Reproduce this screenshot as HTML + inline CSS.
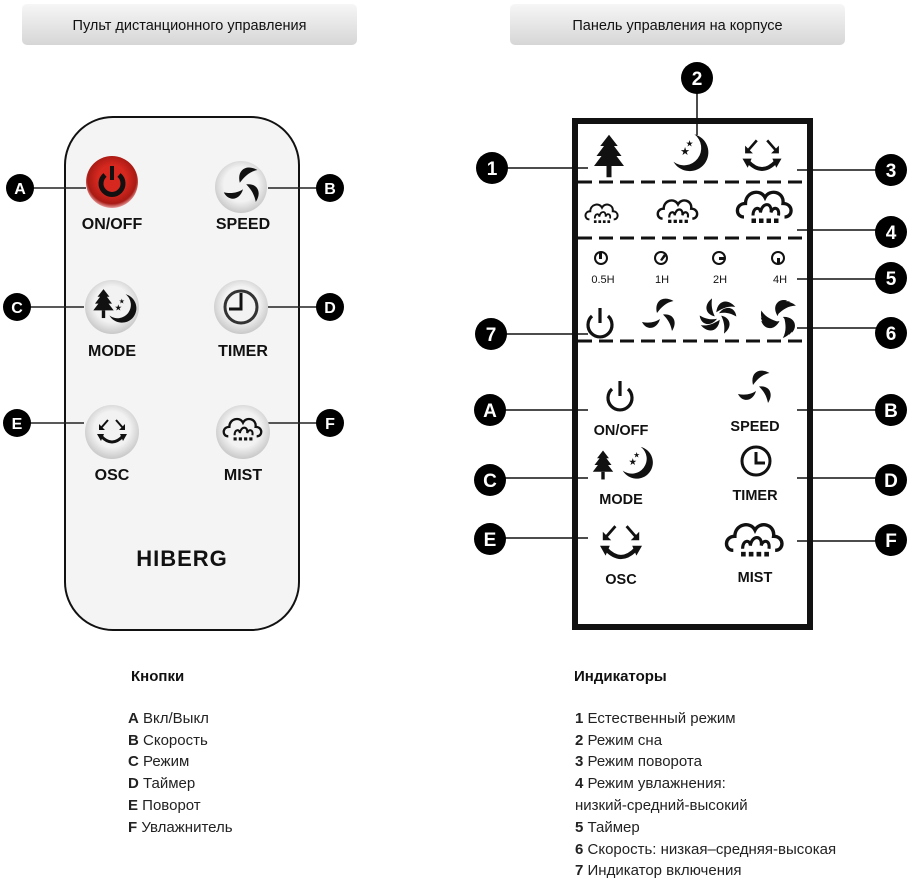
<!DOCTYPE html>
<html><head><meta charset="utf-8"><style>
html,body{margin:0;padding:0;background:#fff;width:916px;height:888px;overflow:hidden}
svg{display:block}
.t{font-family:"Liberation Sans","DejaVu Sans",sans-serif}
</style></head><body>
<svg width="916" height="888" viewBox="0 0 916 888" xmlns="http://www.w3.org/2000/svg">
<defs>
<linearGradient id="pill" x1="0" y1="0" x2="0" y2="1"><stop offset="0" stop-color="#f6f6f6"/><stop offset="1" stop-color="#d6d6d6"/></linearGradient>
<radialGradient id="btn" cx="0.5" cy="0.45" r="0.55"><stop offset="0.6" stop-color="#f2f2f2"/><stop offset="1" stop-color="#c8c8c8"/></radialGradient>
<radialGradient id="red" cx="0.5" cy="0.45" r="0.55"><stop offset="0.5" stop-color="#d6281f"/><stop offset="0.85" stop-color="#a81a14"/><stop offset="1" stop-color="#e8a0a0"/></radialGradient>
<g id="fan"><path d="M-2,-2 C-4,-10 2,-14 9,-10 C4,-9 1,-6 -2,-2Z M2,-1 C9,-2 12,4 8,10 C7,5 5,2 2,-1Z M0,2 C-2,9 -9,10 -12,4 C-7,5 -3,4 0,2Z" fill="#111"/></g>
<g id="cloud"><path d="M-14,6 C-20,6 -20,-3 -13,-3 C-13,-11 -3,-13 0,-7 C3,-13 13,-11 12,-3 C19,-3 19,6 13,6" fill="none" stroke="#111" stroke-width="2.2"/><path d="M-8,5 C-8,-1 -3,-1 -3,3 C-2,-4 5,-4 4,3 C5,-1 10,-1 9,5" fill="none" stroke="#111" stroke-width="2"/><g fill="#111"><rect x="-9" y="7" width="3" height="3"/><rect x="-4" y="7" width="3" height="3"/><rect x="1" y="7" width="3" height="3"/><rect x="6" y="7" width="3" height="3"/></g></g>
<g id="osc"><path d="M-11,4 Q0,16 11,4" fill="none" stroke="#111" stroke-width="3"/><path d="M-15,2 L-8,2 L-11,9Z M15,2 L8,2 L11,9Z" fill="#111"/><path d="M-4,-12 L-11,-4 M4,-12 L11,-4" stroke="#111" stroke-width="2"/><path d="M-13,-8 L-13,-2 L-7,-2Z M13,-8 L13,-2 L7,-2Z" fill="#111"/></g>
<g id="tree"><path d="M0,-17 L-7,-8 L-4,-8 L-10,0 L-6,0 L-12,8 L12,8 L6,0 L10,0 L4,-8 L7,-8Z" fill="#111"/><rect x="-2" y="8" width="4" height="9" fill="#111"/></g>
<g id="moon"><path d="M4,-17 A17,17 0 1 1 -15,8 A14,14 0 0 0 4,-17Z" fill="#111"/><text x="-9" y="2" font-size="10" class="t" fill="#111">★</text><text x="-4" y="-6" font-size="8" class="t" fill="#111">★</text></g>
<g id="power"><path d="M-8,-8 A12,12 0 1 0 8,-8" fill="none" stroke="#111" stroke-width="3.2"/><line x1="0" y1="-16" x2="0" y2="-1" stroke="#111" stroke-width="3.2"/></g>
</defs>

<rect x="22" y="4" width="335" height="41" rx="5" fill="url(#pill)"/>
<text x="189.5" y="30" text-anchor="middle" class="t" font-size="14.5" fill="#111">Пульт дистанционного управления</text>
<rect x="510" y="4" width="335" height="41" rx="5" fill="url(#pill)"/>
<text x="677.5" y="30" text-anchor="middle" class="t" font-size="14.5" fill="#111">Панель управления на корпусе</text>

<rect x="65" y="117" width="234" height="513" rx="48" fill="#f4f4f4" stroke="#111" stroke-width="2"/>
<g stroke="#222" stroke-width="1.5">
<line x1="20" y1="188" x2="86" y2="188"/><line x1="268" y1="188" x2="330" y2="188"/>
<line x1="17" y1="307" x2="84" y2="307"/><line x1="268" y1="307" x2="330" y2="307"/>
<line x1="17" y1="423" x2="84" y2="423"/><line x1="268" y1="423" x2="330" y2="423"/>
</g>
<circle cx="112" cy="182" r="26" fill="url(#red)"/>
<path d="M105,175 A11,11 0 1 0 119,175" fill="none" stroke="#111" stroke-width="5"/><line x1="112" y1="166" x2="112" y2="180" stroke="#111" stroke-width="4"/>
<circle cx="241" cy="187" r="26" fill="url(#btn)"/>
<g transform="translate(243 186) scale(1.6)"><use href="#fan"/></g>
<circle cx="112" cy="307" r="27" fill="url(#btn)"/>
<g transform="translate(112 307) scale(0.85)"><use href="#tree" x="-10" y="-4"/><use href="#moon" x="12" y="2"/></g>
<circle cx="241" cy="307" r="27" fill="url(#btn)"/>
<circle cx="241" cy="307" r="16" fill="none" stroke="#333" stroke-width="3"/><path d="M241,293 L241,309 L229,309" fill="none" stroke="#111" stroke-width="3"/>
<circle cx="112" cy="432" r="27" fill="url(#btn)"/>
<use href="#osc" x="112" y="432"/>
<circle cx="243" cy="432" r="27" fill="url(#btn)"/>
<g transform="translate(243 430) scale(1.05)"><use href="#cloud"/></g>
<g class="t" font-weight="bold" font-size="16" fill="#111" text-anchor="middle">
<text x="112" y="229">ON/OFF</text><text x="243" y="229">SPEED</text>
<text x="112" y="356">MODE</text><text x="243" y="356">TIMER</text>
<text x="112" y="480">OSC</text><text x="243" y="480">MIST</text>
</g>
<text x="182" y="566" text-anchor="middle" class="t" font-weight="bold" font-size="22" letter-spacing="1" fill="#111">HIBERG</text>

<g class="t" font-weight="bold" font-size="16" fill="#fff" text-anchor="middle">
<circle cx="20" cy="188" r="14" fill="#000"/><text x="20" y="194">A</text>
<circle cx="330" cy="188" r="14" fill="#000"/><text x="330" y="194">B</text>
<circle cx="17" cy="307" r="14" fill="#000"/><text x="17" y="313">C</text>
<circle cx="330" cy="307" r="14" fill="#000"/><text x="330" y="313">D</text>
<circle cx="17" cy="423" r="14" fill="#000"/><text x="17" y="429">E</text>
<circle cx="330" cy="423" r="14" fill="#000"/><text x="330" y="429">F</text>
</g>

<rect x="575" y="121" width="235" height="506" fill="#fff" stroke="#111" stroke-width="6"/>
<g stroke="#111" stroke-width="3" stroke-dasharray="14,7">
<line x1="578" y1="182" x2="807" y2="182"/><line x1="578" y1="238" x2="807" y2="238"/><line x1="578" y1="341" x2="807" y2="341"/>
</g>
<g stroke="#111" stroke-width="1.5">
<line x1="492" y1="168" x2="588" y2="168"/><line x1="697" y1="78" x2="697" y2="135"/>
<line x1="797" y1="170" x2="890" y2="170"/><line x1="797" y1="230" x2="890" y2="230"/>
<line x1="797" y1="279" x2="890" y2="279"/><line x1="797" y1="328" x2="890" y2="328"/>
<line x1="492" y1="334" x2="588" y2="334"/>
<line x1="492" y1="410" x2="588" y2="410"/><line x1="797" y1="410" x2="890" y2="410"/>
<line x1="492" y1="478" x2="588" y2="478"/><line x1="797" y1="478" x2="890" y2="478"/>
<line x1="492" y1="538" x2="588" y2="538"/><line x1="797" y1="541" x2="890" y2="541"/>
</g>
<g transform="translate(609 156) scale(1.25)"><use href="#tree"/></g>
<g transform="translate(690 153) scale(1.1)"><use href="#moon"/></g>
<g transform="translate(762 156) scale(1.3)"><use href="#osc"/></g>
<g transform="translate(602 214) scale(0.9)"><use href="#cloud"/></g>
<g transform="translate(678 212) scale(1.1)"><use href="#cloud"/></g>
<g transform="translate(765 208) scale(1.5)"><use href="#cloud"/></g>
<g fill="none" stroke="#111" stroke-width="2">
<circle cx="601" cy="258" r="6"/><circle cx="661" cy="258" r="6"/><circle cx="719" cy="258" r="6"/><circle cx="778" cy="258" r="6"/>
</g>
<g fill="#111"><rect x="599" y="253" width="3" height="6"/><path d="M660,260 L664,254 L666,256 L662,261Z"/><rect x="719" y="257" width="6" height="3"/><rect x="777" y="258" width="3" height="6"/></g>
<g class="t" font-size="11" fill="#111" text-anchor="middle">
<text x="603" y="283">0.5H</text><text x="662" y="283">1H</text><text x="720" y="283">2H</text><text x="780" y="283">4H</text>
</g>
<use href="#power" x="600" y="324"/>
<g transform="translate(660 316) scale(1.5)"><use href="#fan"/></g>
<g transform="translate(718 316) scale(1.45) rotate(20)"><use href="#fan"/><use href="#fan" transform="rotate(180)"/></g>
<g transform="translate(780 318) scale(1.5) rotate(10)"><use href="#fan"/><use href="#fan" transform="rotate(120)"/><use href="#fan" transform="rotate(240)"/></g>

<use href="#power" x="620" y="397"/>
<g transform="translate(756 388) scale(1.5)"><use href="#fan"/></g>
<g transform="translate(603 465) scale(0.85)"><use href="#tree"/></g>
<g transform="translate(637 463) scale(0.95)"><use href="#moon"/></g>
<circle cx="756" cy="461" r="14" fill="none" stroke="#111" stroke-width="3"/><path d="M756,452 L756,463 L765,463" fill="none" stroke="#111" stroke-width="3"/>
<g transform="translate(621 543) scale(1.4)"><use href="#osc"/></g>
<g transform="translate(755 541) scale(1.55)"><use href="#cloud"/></g>
<g class="t" font-weight="bold" font-size="14.5" fill="#111" text-anchor="middle">
<text x="621" y="435">ON/OFF</text><text x="755" y="431">SPEED</text>
<text x="621" y="504">MODE</text><text x="755" y="500">TIMER</text>
<text x="621" y="584">OSC</text><text x="755" y="582">MIST</text>
</g>

<g class="t" font-weight="bold" font-size="19" fill="#fff" text-anchor="middle">
<circle cx="492" cy="168" r="16" fill="#000"/><text x="492" y="175">1</text>
<circle cx="697" cy="78" r="16" fill="#000"/><text x="697" y="85">2</text>
<circle cx="891" cy="170" r="16" fill="#000"/><text x="891" y="177">3</text>
<circle cx="891" cy="232" r="16" fill="#000"/><text x="891" y="239">4</text>
<circle cx="891" cy="278" r="16" fill="#000"/><text x="891" y="285">5</text>
<circle cx="891" cy="333" r="16" fill="#000"/><text x="891" y="340">6</text>
<circle cx="491" cy="334" r="16" fill="#000"/><text x="491" y="341">7</text>
<circle cx="490" cy="410" r="16" fill="#000"/><text x="490" y="417">A</text>
<circle cx="891" cy="410" r="16" fill="#000"/><text x="891" y="417">B</text>
<circle cx="490" cy="480" r="16" fill="#000"/><text x="490" y="487">C</text>
<circle cx="891" cy="480" r="16" fill="#000"/><text x="891" y="487">D</text>
<circle cx="490" cy="539" r="16" fill="#000"/><text x="490" y="546">E</text>
<circle cx="891" cy="540" r="16" fill="#000"/><text x="891" y="547">F</text>
</g>

<g class="t" font-size="15" fill="#222" xml:space="preserve">
<text x="131" y="681" font-weight="bold" fill="#111">Кнопки</text>
<text x="128" y="723"><tspan font-weight="bold">A</tspan>  Вкл/Выкл</text>
<text x="128" y="745"><tspan font-weight="bold">B</tspan>  Скорость</text>
<text x="128" y="766"><tspan font-weight="bold">C</tspan>  Режим</text>
<text x="128" y="788"><tspan font-weight="bold">D</tspan>   Таймер</text>
<text x="128" y="810"><tspan font-weight="bold">E</tspan>  Поворот</text>
<text x="128" y="832"><tspan font-weight="bold">F</tspan>  Увлажнитель</text>
<text x="574" y="681" font-weight="bold" fill="#111">Индикаторы</text>
<text x="575" y="723"><tspan font-weight="bold">1</tspan>  Естественный режим</text>
<text x="575" y="745"><tspan font-weight="bold">2</tspan>  Режим сна</text>
<text x="575" y="766"><tspan font-weight="bold">3</tspan>  Режим поворота</text>
<text x="575" y="788"><tspan font-weight="bold">4</tspan>  Режим увлажнения:</text>
<text x="575" y="810">низкий-средний-высокий</text>
<text x="575" y="832"><tspan font-weight="bold">5</tspan> Таймер</text>
<text x="575" y="854"><tspan font-weight="bold">6</tspan>  Скорость: низкая–средняя-высокая</text>
<text x="575" y="875"><tspan font-weight="bold">7</tspan>  Индикатор включения</text>
</g>
</svg>
</body></html>
